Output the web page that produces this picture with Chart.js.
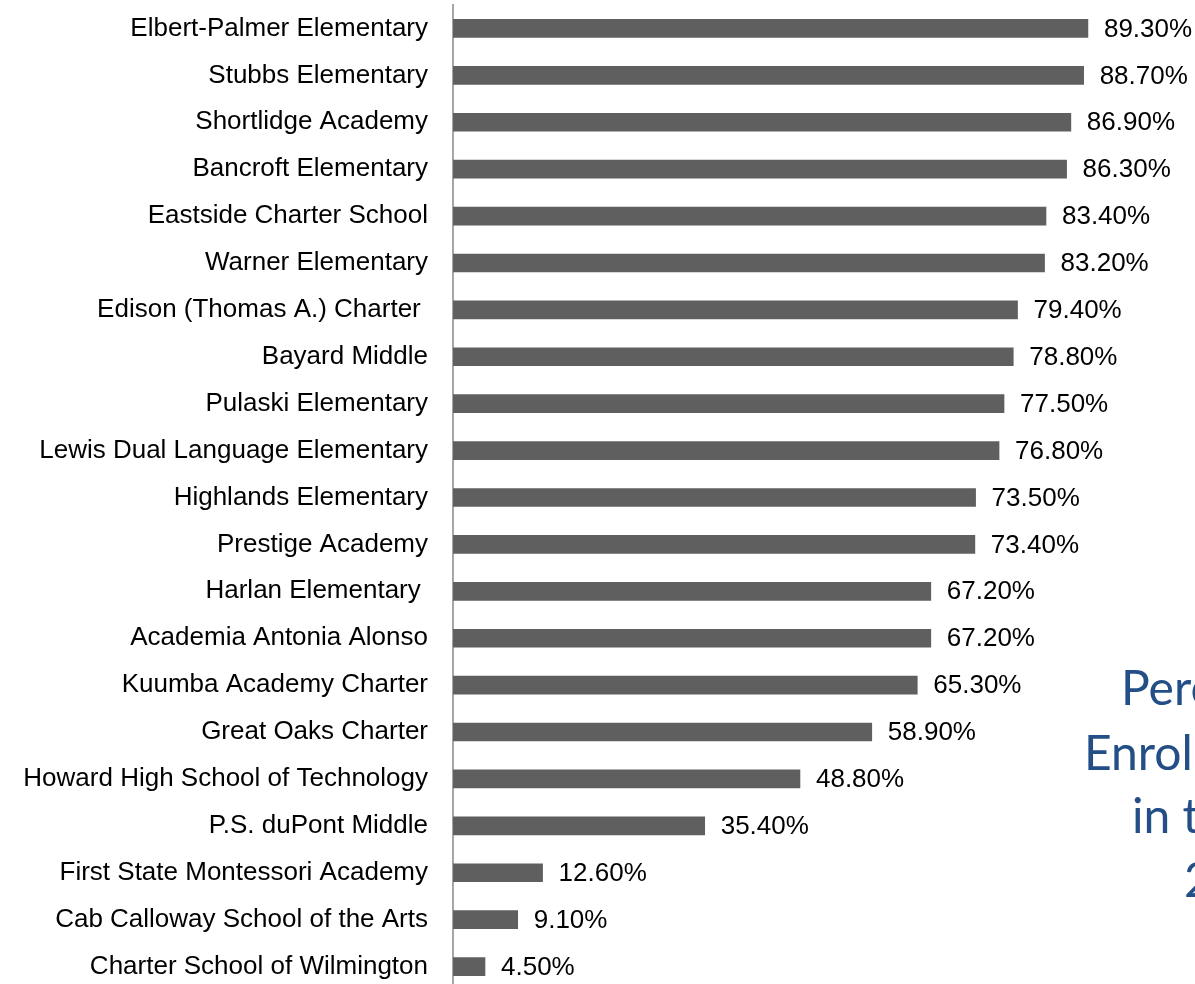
<!DOCTYPE html>
<html>
<head>
<meta charset="utf-8">
<script src="https://cdn.jsdelivr.net/npm/chart.js@4"></script>
<style>
    html, body { margin: 0; padding: 0; background: #fff; overflow: hidden; }
    #wrap { position: relative; width: 1195px; height: 990px; }
</style>
</head>
<body>
<div id="wrap"><canvas id="enrollChart"></canvas></div>
<script>
// ===== DATOS =====
const schools = [
    'Elbert-Palmer Elementary',
    'Stubbs Elementary',
    'Shortlidge Academy',
    'Bancroft Elementary',
    'Eastside Charter School',
    'Warner Elementary',
    'Edison (Thomas A.) Charter ',
    'Bayard Middle',
    'Pulaski Elementary',
    'Lewis Dual Language Elementary',
    'Highlands Elementary',
    'Prestige Academy',
    'Harlan Elementary ',
    'Academia Antonia Alonso',
    'Kuumba Academy Charter',
    'Great Oaks Charter',
    'Howard High School of Technology',
    'P.S. duPont Middle',
    'First State Montessori Academy',
    'Cab Calloway School of the Arts',
    'Charter School of Wilmington'
];
const percents = [89.3, 88.7, 86.9, 86.3, 83.4, 83.2, 79.4, 78.8, 77.5, 76.8, 73.5, 73.4, 67.2, 67.2, 65.3, 58.9, 48.8, 35.4, 12.6, 9.1, 4.5];
const titleLines = ['Percent', 'Enrollment', 'in the', '2014'];

// etiquetas de valor al final de cada barra
const valueLabels = {
    id: 'valueLabels',
    afterDatasetsDraw(chart) {
        const ctx = chart.ctx;
        const meta = chart.getDatasetMeta(0);
        ctx.save();
        ctx.font = '26px "Liberation Sans", Arial, sans-serif';
        ctx.fillStyle = '#000';
        ctx.textAlign = 'left';
        ctx.textBaseline = 'middle';
        meta.data.forEach((bar, i) => {
            ctx.fillText(percents[i].toFixed(2) + '%', bar.x + 16, bar.y + 1);
        });
        ctx.restore();
    }
};

// titulo recortado a la derecha
const sideTitle = {
    id: 'sideTitle',
    afterDraw(chart) {
        const ctx = chart.ctx;
        const xs = [1121, 1084, 1132, 1184];
        const ys = [705, 770, 833, 897];
        ctx.save();
        ctx.font = '48px Lato, "Open Sans", sans-serif';
        ctx.fillStyle = '#244f86';
        ctx.textAlign = 'left';
        ctx.textBaseline = 'alphabetic';
        titleLines.forEach((t, i) => ctx.fillText(t, xs[i], ys[i]));
        ctx.restore();
    }
};

const canvas = document.getElementById('enrollChart');
new Chart(canvas.getContext('2d'), {
    type: 'bar',
    data: {
        labels: schools,
        datasets: [{
            data: percents,
            backgroundColor: '#5f5f5f',
            borderWidth: 0,
            barThickness: 18
        }]
    },
    options: {
        indexAxis: 'y',
        responsive: true,
        maintainAspectRatio: false,
        animation: false,
        layout: { padding: { top: 5, right: 31, bottom: 0, left: 0 } },
        scales: {
            x: {
                display: false,
                min: 0,
                max: 100
            },
            y: {
                afterFit(scale) {
                    scale.width = 453;
                    scale.paddingTop = 0;
                    scale.paddingBottom = 0;
                },
                grid: { display: false, drawTicks: false },
                border: { display: true, color: '#a6a6a6', width: 2 },
                ticks: {
                    padding: 25,
                    color: '#000',
                    font: { family: '"Liberation Sans", Arial, sans-serif', size: 26 }
                }
            }
        },
        plugins: {
            legend: { display: false },
            tooltip: { enabled: false }
        }
    },
    plugins: [valueLabels, sideTitle]
});
</script>
</body>
</html>
